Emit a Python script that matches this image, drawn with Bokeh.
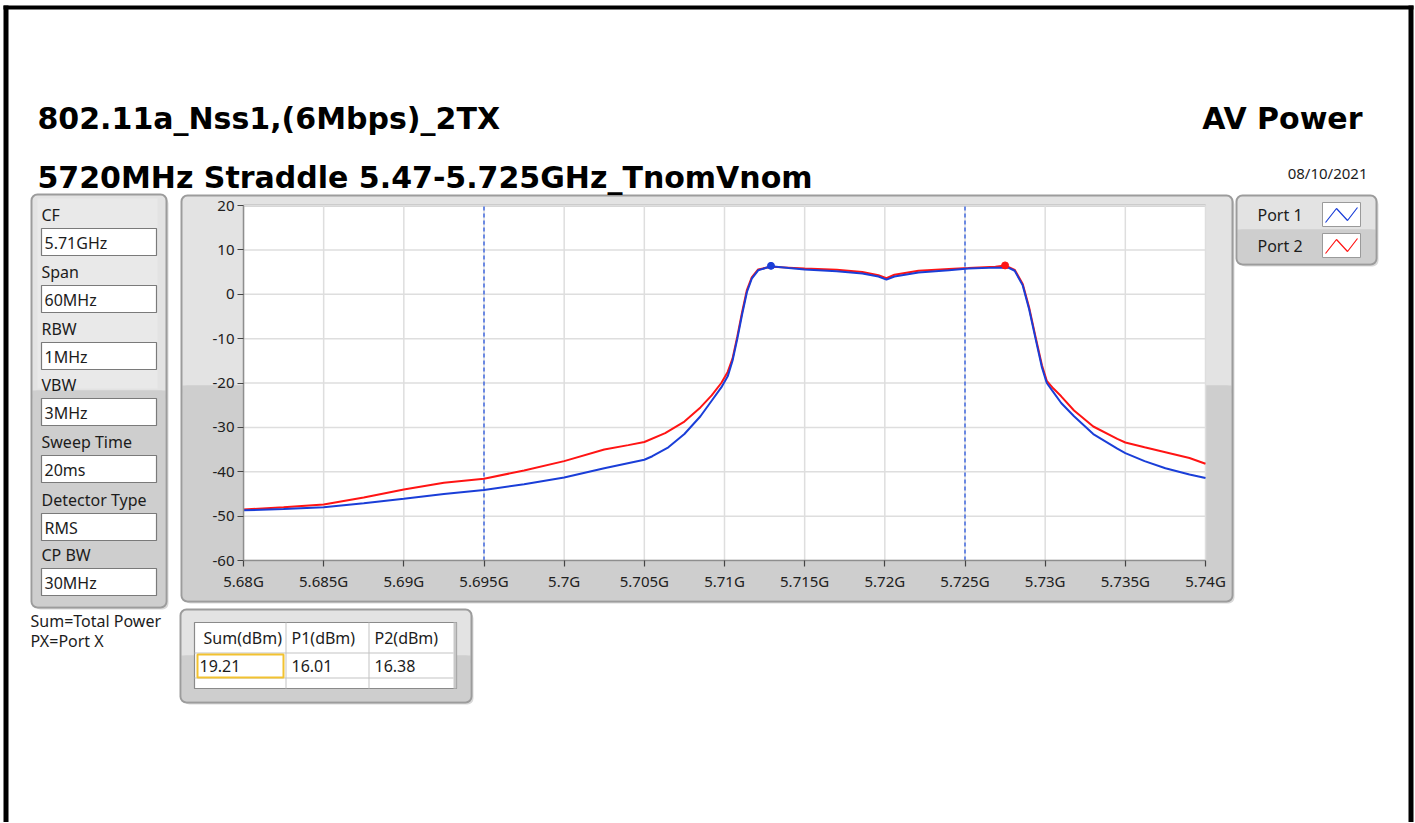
from bokeh.plotting import figure
from bokeh.models import Range1d, FixedTicker, BoxAnnotation, Label
from bokeh.embed import file_html
from bokeh.resources import INLINE

# ---------------- data ----------------
FREQ_P1 = [5.680, 5.6825, 5.685, 5.6875, 5.690, 5.6925, 5.695, 5.6975, 5.700, 5.7025,
           5.705, 5.7055, 5.7065, 5.7075, 5.7085, 5.7092, 5.7098, 5.7102, 5.7105, 5.7108,
           5.7111, 5.7114, 5.7117, 5.7121, 5.7129, 5.714, 5.715, 5.717, 5.7186, 5.7196,
           5.7201, 5.7206, 5.7221, 5.724, 5.7252, 5.7269, 5.7277, 5.7281, 5.7286, 5.729,
           5.7294, 5.7298, 5.7301, 5.7305, 5.731, 5.7318, 5.733, 5.7345, 5.735, 5.7362,
           5.7375, 5.739, 5.740]
PWR_P1 = [-48.7, -48.4, -48.0, -47.1, -46.1, -45.0, -44.1, -42.8, -41.3, -39.2,
          -37.3, -36.5, -34.5, -31.5, -27.5, -24.0, -21.0, -18.5, -15.0, -10.0,
          -4.5, 0.5, 3.5, 5.4, 6.3, 5.9, 5.6, 5.2, 4.7, 4.0,
          3.3, 4.0, 4.9, 5.4, 5.8, 6.0, 6.0, 5.3, 2.0, -3.4,
          -10.0, -16.5, -20.0, -22.0, -24.5, -27.5, -31.5, -34.8, -35.8, -37.6,
          -39.2, -40.6, -41.4]

FREQ_P2 = [5.680, 5.6825, 5.685, 5.6875, 5.690, 5.6925, 5.695, 5.6975, 5.700, 5.7025,
           5.704, 5.705, 5.7063, 5.7075, 5.7085, 5.7092, 5.7098, 5.7102, 5.7105, 5.7108,
           5.7111, 5.7114, 5.7117, 5.7121, 5.7129, 5.714, 5.715, 5.717, 5.7186, 5.7196,
           5.7201, 5.7206, 5.7221, 5.724, 5.7252, 5.7269, 5.7275, 5.7281, 5.7286, 5.729,
           5.7294, 5.7298, 5.7301, 5.7305, 5.731, 5.7318, 5.733, 5.7345, 5.735, 5.7362,
           5.7375, 5.739, 5.740]
PWR_P2 = [-48.5, -48.0, -47.4, -45.8, -44.0, -42.5, -41.6, -39.7, -37.6, -35.0,
          -34.0, -33.3, -31.3, -28.7, -25.5, -22.8, -20.0, -17.5, -14.5, -9.5,
          -4.0, 1.0, 3.8, 5.6, 6.2, 6.0, 5.8, 5.5, 5.0, 4.3,
          3.6, 4.4, 5.3, 5.7, 5.9, 6.2, 6.5, 5.5, 2.3, -3.0,
          -9.6, -16.0, -19.5, -21.2, -23.0, -26.2, -29.8, -32.6, -33.4, -34.5,
          -35.6, -36.9, -38.2]

PEAK_FREQ = [5.7129, 5.7275]
PEAK_PWR = [6.4, 6.5]
MARKER_LINES = [5.695, 5.725]

X_TICKS = [5.68, 5.685, 5.69, 5.695, 5.7, 5.705, 5.71, 5.715, 5.72, 5.725, 5.73, 5.735, 5.74]
X_TICK_LABELS = ["5.68G", "5.685G", "5.69G", "5.695G", "5.7G", "5.705G", "5.71G",
                 "5.715G", "5.72G", "5.725G", "5.73G", "5.735G", "5.74G"]
Y_TICKS = [-60, -50, -40, -30, -20, -10, 0, 10, 20]
Y_TICK_LABELS = ["-60", "-50", "-40", "-30", "-20", "-10", "0", "10", "20"]

SERIES_NAMES = ["Port 1", "Port 2"]
SERIES_COLORS = ["#1a3ed8", "#ff1414"]

PARAM_NAMES = ["CF", "Span", "RBW", "VBW", "Sweep Time", "Detector Type", "CP BW"]
PARAM_VALUES = ["5.71GHz", "60MHz", "1MHz", "3MHz", "20ms", "RMS", "30MHz"]

TABLE_HEADERS = ["Sum(dBm)", "P1(dBm)", "P2(dBm)"]
TABLE_VALUES = ["19.21", "16.01", "16.38"]

TITLE_1 = "802.11a_Nss1,(6Mbps)_2TX"
TITLE_2 = "5720MHz Straddle 5.47-5.725GHz_TnomVnom"
RIGHT_TITLE = "AV Power"
DATE_TEXT = "08/10/2021"
NOTES = ["Sum=Total Power", "PX=Port X"]

# ---------------- layout (page pixels) ----------------
CANVAS_W, CANVAS_H = 1414, 822
PAGE_L, PAGE_T = 0, 0
PAGE_R, PAGE_B = PAGE_L + CANVAS_W, PAGE_T + CANVAS_H
FR_L, FR_R, FR_T, FR_B = 243, 1205, 205, 560          # plot area of the graph

X0, X1 = X_TICKS[0], X_TICKS[-1]
Y0, Y1 = Y_TICKS[0], Y_TICKS[-1]
KX = (X1 - X0) / (FR_R - FR_L)
KY = (Y1 - Y0) / (FR_B - FR_T)

p = figure(width=CANVAS_W, height=CANVAS_H, output_backend="svg", toolbar_location=None,
           x_range=Range1d(X0 - (FR_L - PAGE_L) * KX, X1 + (PAGE_R - FR_R) * KX),
           y_range=Range1d(Y0 - (PAGE_B - FR_B) * KY, Y1 + (FR_T - PAGE_T) * KY),
           min_border=0)
p.title.text = ""
p.background_fill_color = "white"
p.border_fill_color = "white"
p.outline_line_color = None
p.grid.visible = False

# page-pixel coordinates for the instrument-panel decoration
p.extra_x_ranges = {"px": Range1d(PAGE_L, PAGE_R)}
p.extra_y_ranges = {"py": Range1d(PAGE_B, PAGE_T)}

xa, ya = p.xaxis[0], p.yaxis[0]
xa.fixed_location = Y0
xa.bounds = (X0, X1)
ya.fixed_location = X0
ya.bounds = (Y0, Y1)
for ax in (xa, ya):
    ax.axis_line_color = "#8e8e8e"
    ax.axis_line_width = 1.5
    ax.major_tick_line_color = "#444444"
    ax.major_tick_line_width = 1.2
    ax.major_tick_out = 6
    ax.major_tick_in = 0
    ax.minor_tick_line_color = None
    ax.major_label_text_font = "Noto Sans"
    ax.major_label_text_font_size = "15px"
    ax.major_label_text_color = "#202020"
xa.ticker = FixedTicker(ticks=X_TICKS)
xa.major_label_overrides = {t: l for t, l in zip(X_TICKS, X_TICK_LABELS)}
xa.major_label_standoff = 4
ya.ticker = FixedTicker(ticks=Y_TICKS)
ya.major_label_overrides = {t: l for t, l in zip(Y_TICKS, Y_TICK_LABELS)}
ya.major_label_standoff = 3

LIGHT = "#e3e3e3"
DARK = "#cecece"
EDGE = "#9c9c9c"
SHADOW = "#d9d9d9"


def box(l, t, r, b, fill=None, line=None, lw=1.0, radius=0):
    p.add_layout(BoxAnnotation(left=l, right=r, top=t, bottom=b,
                               x_range_name="px", y_range_name="py",
                               fill_color=fill if fill else "white",
                               fill_alpha=1.0 if fill else 0.0,
                               line_color=line if line else "white",
                               line_alpha=1.0 if line else 0.0,
                               line_width=lw, border_radius=radius, level="underlay"))


def text(x, y, s, size=16, bold=False, align="left", baseline="middle",
         color="#1c1c1c", font="Noto Sans"):
    p.add_layout(Label(x=x, y=y, text=s, x_range_name="px", y_range_name="py",
                       text_font=font, text_font_size=f"{size}px",
                       text_font_style="bold" if bold else "normal",
                       text_align=align, text_baseline=baseline, text_color=color))


def zigzag(x0, y0, color):
    xs = [x0 + 3, x0 + 14, x0 + 25, x0 + 35]
    ys = [y0 + 20, y0 + 6, y0 + 18, y0 + 5]
    p.line(xs, ys, x_range_name="px", y_range_name="py", line_color=color, line_width=1.2)


def panel(l, t, r, b, split):
    box(l + 3, t + 3, r + 2, b + 2, fill=SHADOW, radius=6)
    box(l, t, r, b, fill=LIGHT, radius=6)
    box(l + 1, split, r - 1, b - 1, fill=DARK, radius=5)
    box(l + 1, split, r - 1, split + 8, fill=DARK)


# outer black page border
box(3, 5, 8, PAGE_B, fill="black")
box(3, 5, 1413, 9, fill="black")
box(1408, 5, 1413, PAGE_B, fill="black")

# ---- graph panel ----
panel(181, 195, 1232, 601, 385)
box(FR_L, FR_T, FR_R, FR_B, fill="white")
box(FR_L, FR_T - 1, FR_R, FR_T + 1, fill="#a9a9a9")
box(181, 195, 1232, 601, line=EDGE, lw=2, radius=6)

# ---- left parameter panel ----
panel(31, 194, 166, 607, 390)
box(37, 198, 157, 388, fill="#e9e9e9")
box(31, 194, 166, 607, line=EDGE, lw=2, radius=6)
BOX_TOPS = [228, 285, 342, 398, 455, 513, 568]
for name, val, bt in zip(PARAM_NAMES, PARAM_VALUES, BOX_TOPS):
    text(41, bt - 14, name)
    box(41, bt, 156, bt + 27, fill="white", line="#7a7a7a", lw=1.2)
    text(44, bt + 14, val)

for i, note in enumerate(NOTES):
    text(30, 620 + 20 * i, note)

# ---- legend panel ----
panel(1236, 195, 1376, 264, 229)
box(1236, 195, 1376, 264, line=EDGE, lw=2, radius=6)
SWATCH_TOPS = [202, 233]
for name, col, st in zip(SERIES_NAMES, SERIES_COLORS, SWATCH_TOPS):
    text(1257, st + 12, name)
    box(1322, st, 1360, st + 24, fill="white", line="#9a9a9a", lw=1)
    zigzag(1322, st, col)

# ---- table panel ----
panel(180, 609, 471, 702, 655)
box(180, 609, 471, 702, line=EDGE, lw=2, radius=6)
box(194, 622, 456, 688, fill="white", line="#8a8a8a", lw=1.2)
box(453, 622, 456, 688, fill="#c8c8c8")
COL_X = [194, 285, 368, 453]
for cx in COL_X[1:3]:
    box(cx, 622, cx + 1, 688, fill="#c4c4c4")
box(194, 652, 453, 653, fill="#c4c4c4")
box(194, 677, 453, 678, fill="#c4c4c4")
box(197, 654, 283, 677, line="#f2c230", lw=2)
for i, (hd, vl) in enumerate(zip(TABLE_HEADERS, TABLE_VALUES)):
    text(COL_X[i] + (9 if i == 0 else 6), 637, hd)
    text(COL_X[i] + (5 if i == 0 else 6), 665, vl)

# ---- titles ----
text(37, 118, TITLE_1, size=30, bold=True, baseline="alphabetic", color="black",
     font="DejaVu Sans")
text(37, 177, TITLE_2, size=30, bold=True, baseline="alphabetic", color="black",
     font="DejaVu Sans")
text(1362, 118, RIGHT_TITLE, size=30, bold=True, baseline="alphabetic", color="black",
     align="right", font="DejaVu Sans")
text(1367, 172, DATE_TEXT, size=15, align="right")

# ---- graph content, through the data scales ----
p.segment(x0=X_TICKS, y0=[Y0] * len(X_TICKS), x1=X_TICKS, y1=[Y1] * len(X_TICKS),
          line_color="#dedede", line_width=1.5)
p.segment(x0=[X0] * len(Y_TICKS), y0=Y_TICKS, x1=[X1] * len(Y_TICKS), y1=Y_TICKS,
          line_color="#dedede", line_width=1.5)
p.segment(x0=MARKER_LINES, y0=[Y0] * len(MARKER_LINES), x1=MARKER_LINES,
          y1=[Y1] * len(MARKER_LINES), line_color="#2a58e0", line_dash="4 3", line_width=1.3)

p.line(FREQ_P2, PWR_P2, line_color=SERIES_COLORS[1], line_width=2)
p.line(FREQ_P1, PWR_P1, line_color=SERIES_COLORS[0], line_width=2)
p.scatter(PEAK_FREQ[:1], PEAK_PWR[:1], size=7, color=SERIES_COLORS[0])
p.scatter(PEAK_FREQ[1:], PEAK_PWR[1:], size=7, color=SERIES_COLORS[1])

open("out.html", "w").write(file_html(p, INLINE))
